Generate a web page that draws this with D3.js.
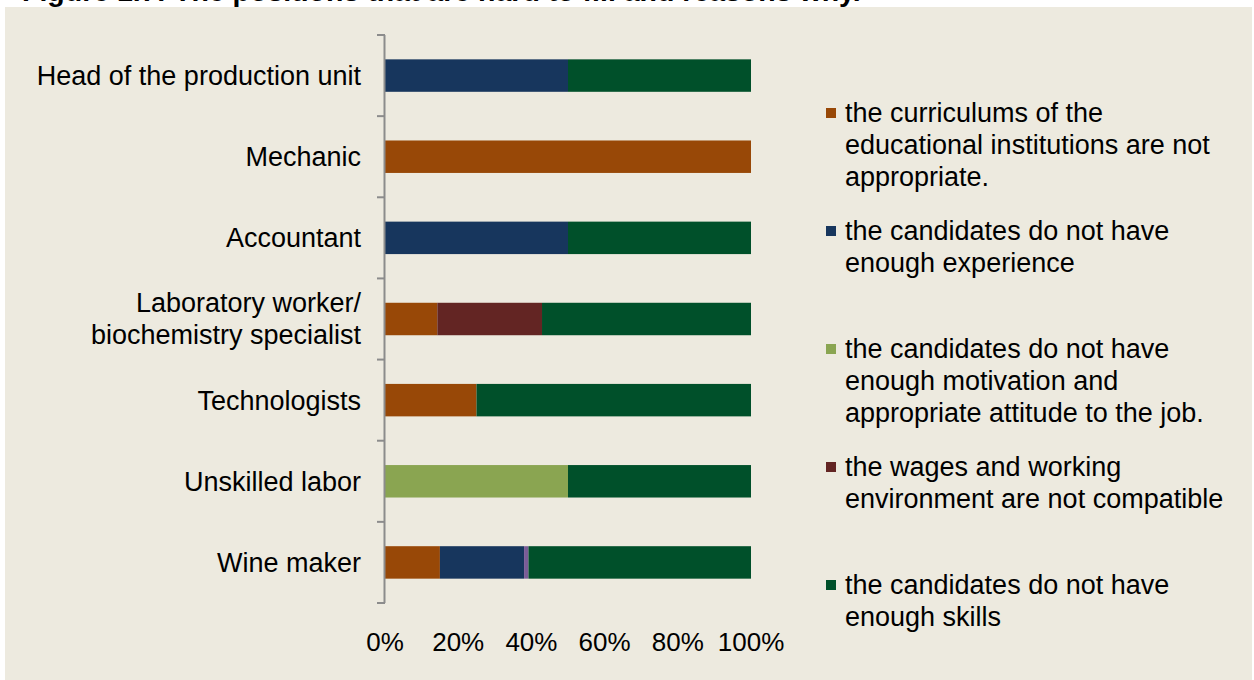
<!DOCTYPE html>
<html>
<head>
<meta charset="utf-8">
<script src="https://cdn.jsdelivr.net/npm/d3@7"></script>
<style>
  body { margin: 0; background: #fff; }
  svg { display: block; font-family: "Liberation Sans", Arial, sans-serif; }
</style>
</head>
<body>
<div id="chart"></div>
<script>
const categories = [
  "Head of the production unit",
  "Mechanic",
  "Accountant",
  "Laboratory worker/\nbiochemistry specialist",
  "Technologists",
  "Unskilled labor",
  "Wine maker"
];

// shares per category, in the order of categories
const curriculum = [0, 100, 0, 14.3, 25, 0, 15];
const experience = [50, 0, 50, 0, 0, 0, 23];
const motivation = [0, 0, 0, 0, 0, 50, 0];
const wages      = [0, 0, 0, 28.6, 0, 0, 0];
const other      = [0, 0, 0, 0, 0, 0, 1.2];
const skills     = [50, 0, 50, 57.1, 75, 50, 60.8];

const seriesKeys = ["curriculum", "experience", "motivation", "wages", "other", "skills"];
const seriesValues = { curriculum, experience, motivation, wages, other, skills };

const legendKeys = ["curriculum", "experience", "motivation", "wages", "skills"];
const legendLabels = [
  ["the curriculums of the", "educational institutions are not", "appropriate."],
  ["the candidates do not have", "enough experience"],
  ["the candidates do not have", "enough motivation and", "appropriate attitude to the job."],
  ["the wages and working", "environment are not compatible"],
  ["the candidates do not have", "enough skills"]
];

const ticks = [0, 20, 40, 60, 80, 100];

const colors = {
  curriculum: "#984807",
  experience: "#17365d",
  motivation: "#8aa551",
  wages: "#632523",
  other: "#7a5c97",
  skills: "#00502a"
};

const width = 1254, height = 680;
const svg = d3.select("#chart").append("svg")
  .attr("width", width)
  .attr("height", height);

// title (sits above the panel, mostly cut off at the top)
svg.append("text")
  .attr("x", 22)
  .attr("y", 1)
  .attr("font-weight", "bold")
  .attr("font-size", 28.5)
  .attr("fill", "#000")
  .text("Figure 1.7: The positions that are hard to fill and reasons why.");

svg.append("rect")
  .attr("x", 5).attr("y", 7)
  .attr("width", 1247).attr("height", 680)
  .attr("fill", "#edeadf");

const table = categories.map((c, i) => {
  const row = { category: c };
  seriesKeys.forEach(k => { row[k] = seriesValues[k][i]; });
  return row;
});

const stack = d3.stack().keys(seriesKeys);
const layers = stack(table);

const x = d3.scaleLinear().domain([0, 100]).range([385, 751]);
const y = d3.scaleBand().domain(categories).range([35, 603]).paddingInner(0.6).paddingOuter(0.3);
const yEdges = d3.scaleLinear().domain([0, categories.length]).range([35, 603]);

// bars
svg.append("g")
  .selectAll("g")
  .data(layers)
  .join("g")
  .attr("fill", d => colors[d.key])
  .selectAll("rect")
  .data(d => d)
  .join("rect")
  .attr("x", d => x(d[0]))
  .attr("y", d => y(d.data.category))
  .attr("width", d => Math.max(0, x(d[1]) - x(d[0])))
  .attr("height", y.bandwidth());

// vertical axis with ticks at category boundaries
const axisG = svg.append("g").attr("stroke", "#8c8c8c").attr("stroke-width", 2);
axisG.append("line")
  .attr("x1", 384.5).attr("x2", 384.5)
  .attr("y1", yEdges(0)).attr("y2", yEdges(categories.length));
axisG.selectAll("line.tick")
  .data(d3.range(categories.length + 1))
  .join("line")
  .attr("class", "tick")
  .attr("x1", 377).attr("x2", 385)
  .attr("y1", d => yEdges(d)).attr("y2", d => yEdges(d));

// category labels
const labels = svg.append("g")
  .attr("font-size", 27)
  .attr("text-anchor", "end")
  .attr("fill", "#000");
categories.forEach(c => {
  const lines = c.split("\n");
  const cy = y(c) + y.bandwidth() / 2;
  const lh = 32;
  lines.forEach((ln, j) => {
    labels.append("text")
      .attr("x", 361)
      .attr("y", cy + (j - (lines.length - 1) / 2) * lh)
      .attr("dy", "0.35em")
      .text(ln);
  });
});

// x tick labels
svg.append("g")
  .attr("font-size", 26)
  .attr("text-anchor", "middle")
  .selectAll("text")
  .data(ticks)
  .join("text")
  .attr("x", d => x(d))
  .attr("y", 642)
  .attr("dy", "0.35em")
  .text(d => d + "%");

// legend
const legendY = d3.scaleLinear().domain([0, legendKeys.length - 1]).range([113, 585]);
const legend = svg.append("g").attr("font-size", 27);
legendKeys.forEach((k, i) => {
  const ly = legendY(i);
  legend.append("rect")
    .attr("x", 826).attr("y", ly - 5)
    .attr("width", 10).attr("height", 10)
    .attr("fill", colors[k]);
  legendLabels[i].forEach((ln, j) => {
    legend.append("text")
      .attr("x", 845)
      .attr("y", ly + j * 31.7)
      .attr("dy", "0.35em")
      .text(ln);
  });
});
</script>
</body>
</html>
